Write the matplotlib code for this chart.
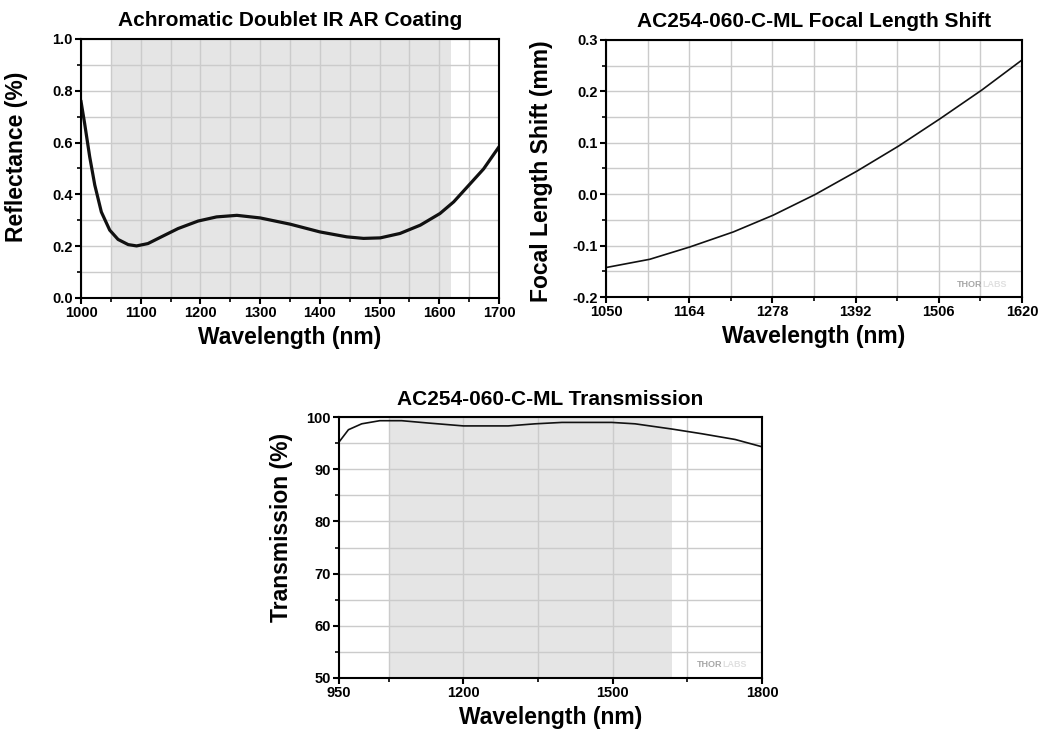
import numpy as np
import matplotlib
matplotlib.use("Agg")
import matplotlib.pyplot as plt
from matplotlib.ticker import MultipleLocator, FixedLocator

plt.rcParams['font.family'] = ['Liberation Sans', 'DejaVu Sans']
plt.rcParams['font.weight'] = 'bold'

# reflectance of the AR coating
refl_wl = [1000, 1006, 1014.5, 1023, 1034, 1048, 1062, 1079, 1093, 1112, 1134.5, 1162.5,
           1196, 1227, 1261, 1300, 1350, 1400, 1445, 1473, 1501, 1534, 1568, 1601,
           1624, 1652, 1674, 1700]
refl = [0.758, 0.674, 0.545, 0.436, 0.332, 0.262, 0.226, 0.206, 0.201, 0.210, 0.236, 0.268,
        0.297, 0.313, 0.319, 0.309, 0.285, 0.255, 0.236, 0.230, 0.232, 0.249, 0.281, 0.326,
        0.371, 0.442, 0.498, 0.584]

# focal length shift
fls_wl = [1050, 1110, 1165, 1224.5, 1279, 1336.6, 1393.8, 1450.8, 1508, 1565, 1620]
fls = [-0.1427, -0.1266, -0.1026, -0.0734, -0.0409, -0.0006, 0.0448, 0.0935, 0.147, 0.2026, 0.261]

# transmission
tr_wl = [950, 969, 995.6, 1032, 1076, 1129.6, 1200, 1290, 1344, 1398, 1498, 1545,
         1619, 1679, 1746, 1800]
tr = [95.2, 97.57, 98.7, 99.3, 99.3, 98.85, 98.3, 98.3, 98.7, 98.97, 98.97, 98.7,
      97.7, 96.8, 95.7, 94.3]

band = (1050, 1620)

fig = plt.figure(figsize=(10.43, 7.35), dpi=100)


def style(ax, title, ylabel, ylab_xy):
    ax.set_title(title, fontsize=15, fontweight='bold', pad=9)
    ax.set_xlabel("Wavelength (nm)", fontsize=16.5, fontweight='bold', labelpad=4)
    ax.set_ylabel(ylabel, fontsize=16.5, fontweight='bold')
    ax.yaxis.set_label_coords(*ylab_xy)
    ax.grid(True, which='both', color='#cbcbcb', lw=1.0)
    ax.set_axisbelow(True)
    ax.tick_params(which='major', direction='out', length=4, width=1.5, labelsize=10.5, pad=2)
    ax.tick_params(which='minor', direction='out', length=3, width=1.2)
    for s in ax.spines.values():
        s.set_linewidth(1.5)
    for lab in ax.get_xticklabels() + ax.get_yticklabels():
        lab.set_fontweight('bold')


def logo(ax):
    ax.text(0.906, 0.05, "THOR", transform=ax.transAxes, ha='right', va='center',
            fontsize=6.5, fontweight='bold', color='#a8a8a8')
    ax.text(0.906, 0.05, "LABS", transform=ax.transAxes, ha='left', va='center',
            fontsize=6.5, fontweight='bold', color='#e0e0e0')


# top left
ax1 = fig.add_axes([0.0777, 0.5946, 0.4008, 0.3524])
ax1.axvspan(*band, color='#e5e5e5', lw=0, zorder=0)
ax1.plot(refl_wl, refl, color='#111111', lw=2.3, solid_joinstyle='round')
ax1.set_xlim(1000, 1700)
ax1.set_ylim(0, 1.0)
ax1.xaxis.set_major_locator(MultipleLocator(100))
ax1.xaxis.set_minor_locator(MultipleLocator(50))
ax1.yaxis.set_major_locator(MultipleLocator(0.2))
ax1.yaxis.set_minor_locator(MultipleLocator(0.1))
ax1.set_yticklabels([f"{v:.1f}" for v in ax1.get_yticks()])
style(ax1, "Achromatic Doublet IR AR Coating", "Reflectance (%)", (-0.127, 0.544))

# top right
ax2 = fig.add_axes([0.581, 0.5959, 0.3988, 0.3497])
ax2.plot(fls_wl, fls, color='#111111', lw=1.2)
ax2.set_xlim(1050, 1620)
ax2.set_ylim(-0.2, 0.3)
ax2.xaxis.set_major_locator(FixedLocator([1050, 1164, 1278, 1392, 1506, 1620]))
ax2.xaxis.set_minor_locator(FixedLocator([1107, 1221, 1335, 1449, 1563]))
ax2.yaxis.set_major_locator(MultipleLocator(0.1))
ax2.yaxis.set_minor_locator(MultipleLocator(0.05))
ax2.set_yticklabels([f"{v:.1f}" for v in ax2.get_yticks()])
style(ax2, "AC254-060-C-ML Focal Length Shift", "Focal Length Shift (mm)", (-0.127, 0.489))
logo(ax2)

# bottom
ax3 = fig.add_axes([0.325, 0.0776, 0.4056, 0.355])
ax3.axvspan(*band, color='#e5e5e5', lw=0, zorder=0)
ax3.plot(tr_wl, tr, color='#111111', lw=1.2)
ax3.set_xlim(950, 1800)
ax3.set_ylim(50, 100)
ax3.xaxis.set_major_locator(FixedLocator([950, 1200, 1500, 1800]))
ax3.xaxis.set_minor_locator(FixedLocator([1050, 1350, 1650]))
ax3.yaxis.set_major_locator(MultipleLocator(10))
ax3.yaxis.set_minor_locator(MultipleLocator(5))
style(ax3, "AC254-060-C-ML Transmission", "Transmission (%)", (-0.109, 0.578))
ax3.grid(False, axis='x', which='both')
for xv in [1050, 1200, 1350, 1500, 1650]:
    ax3.axvline(xv, color='#cbcbcb', lw=1.0, zorder=0.5)
logo(ax3)

fig.savefig("out.png", dpi=100)
